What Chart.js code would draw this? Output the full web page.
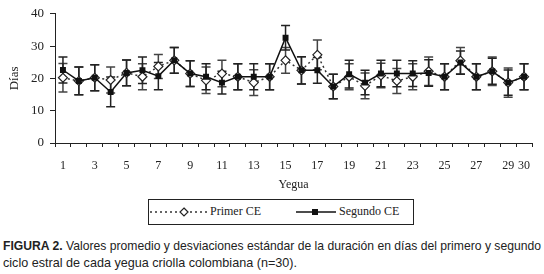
<!DOCTYPE html>
<html>
<head>
<meta charset="utf-8">
<script src="https://cdn.jsdelivr.net/npm/chart.js@4"></script>
<style>
  body { margin: 0; background: #fff; width: 544px; height: 274px; overflow: hidden; position: relative; }
  #wrap { position: absolute; left: 0; top: 0; width: 544px; height: 195px; }
  #legend { position: absolute; left: 148px; top: 199px; width: 264px; height: 24px; border: 1px solid #222;
    font-family: "Liberation Serif", serif; font-size: 12px; color: #222; }
  #legend span { position: absolute; top: 4px; }
  #legend svg { position: absolute; top: 5px; }
  #cap { position: absolute; left: 3px; top: 237px; width: 541px; font-family: "Liberation Sans", sans-serif;
    font-size: 13.5px; line-height: 17px; color: #222; white-space: nowrap; }
  #cap .ln { display: inline-block; transform-origin: 0 50%; }
</style>
</head>
<body>
<div id="wrap"><canvas id="chart"></canvas></div>
<div id="legend">
  <svg width="60" height="14" style="left:0px"><line x1="1" y1="7" x2="58" y2="7" stroke="#333" stroke-width="1.5" stroke-dasharray="2,3"/><polygon points="35,3 39,7 35,11 31,7" fill="#fff" stroke="#222" stroke-width="1.2"/></svg>
  <span style="left:61px">Primer CE</span>
  <svg width="42" height="14" style="left:147px"><line x1="0" y1="7" x2="40" y2="7" stroke="#111" stroke-width="1.5"/><rect x="16" y="4" width="6" height="6" fill="#111"/></svg>
  <span style="left:190px">Segundo CE</span>
</div>
<div id="cap"><span class="ln" data-w="538"><b>FIGURA 2.</b> Valores promedio y desviaciones estándar de la duración en días del primero y segundo</span><br><span class="ln" data-w="294">ciclo estral de cada yegua criolla colombiana (n=30).</span></div>
<script>
const yeguas = [1, 2, 3, 4, 5, 6, 7, 8, 9, 10, 11, 12, 13, 14, 15, 16, 17, 18, 19, 20, 21, 22, 23, 24, 25, 26, 27, 28, 29, 30];

// promedio y desviacion, primer ciclo
const primerCE = [20.2, 19.2, 20.2, 19.5, 21.7, 20.5, 23.7, 25.6, 21.5, 19.4, 21.5, 20.5, 18.7, 20.5, 25.6,
                  22.5, 27.3, 17.5, 20.5, 17.7, 20.9, 19.2, 20.5, 22.2, 20.5, 25.5, 20.5, 22.2, 18.7, 20.5];
const primerSD = [4.4, 4.3, 4.0, 4.0, 4.0, 4.0, 3.7, 4.0, 4.0, 4.1, 4.1, 4.0, 4.0, 4.0, 4.0,
                  4.2, 4.6, 3.8, 4.0, 4.0, 3.8, 3.9, 4.0, 4.4, 4.0, 4.1, 4.0, 4.4, 4.5, 4.0];

// segundo ciclo
const segundoCE = [22.6, 19.2, 20.2, 15.8, 21.7, 22.5, 20.7, 25.6, 21.5, 20.5, 18.7, 20.5, 20.5, 20.5, 32.6,
                   22.5, 22.5, 17.5, 21.3, 18.7, 21.5, 21.5, 21.5, 21.7, 20.5, 24.9, 20.5, 22.2, 18.7, 20.5];
const segundoSD = [4.0, 4.3, 4.0, 4.6, 4.0, 4.1, 4.2, 4.0, 4.0, 4.0, 3.5, 4.0, 4.0, 4.0, 3.8,
                   4.2, 4.0, 3.8, 4.3, 3.8, 4.1, 4.1, 4.0, 4.1, 4.0, 3.6, 4.0, 4.0, 3.9, 4.0];

const serif = "'Liberation Serif', serif";

// pie de figura: fuente condensada a mano
document.querySelectorAll('#cap .ln').forEach(el => {
  const w = el.getBoundingClientRect().width;
  el.style.transform = `scaleX(${el.dataset.w / w})`;
});

// barras de error dibujadas con las escalas del grafico
const errorBars = {
  id: 'errorBars',
  beforeDatasetsDraw(chart) {
    const ctx = chart.ctx;
    const y = chart.scales.y;
    chart.data.datasets.forEach((ds, di) => {
      const meta = chart.getDatasetMeta(di);
      ctx.save();
      ctx.strokeStyle = ds.errColor;
      ctx.lineWidth = 1.5;
      meta.data.forEach((pt, i) => {
        const hi = y.getPixelForValue(ds.data[i] + ds.sd[i]);
        const lo = y.getPixelForValue(ds.data[i] - ds.sd[i]);
        ctx.beginPath();
        ctx.moveTo(pt.x, hi); ctx.lineTo(pt.x, lo);
        ctx.moveTo(pt.x - 4.5, hi); ctx.lineTo(pt.x + 4.5, hi);
        ctx.moveTo(pt.x - 4.5, lo); ctx.lineTo(pt.x + 4.5, lo);
        ctx.stroke();
      });
      ctx.restore();
    });
  }
};

new Chart(document.getElementById('chart'), {
  type: 'line',
  data: {
    labels: yeguas,
    datasets: [
      {
        label: 'Primer CE',
        data: primerCE,
        sd: primerSD,
        errColor: '#444',
        borderColor: '#333',
        borderWidth: 1.5,
        borderDash: [2, 3],
        pointStyle: 'rectRot',
        pointRadius: 4.5,
        pointBackgroundColor: '#fff',
        pointBorderColor: '#222',
        pointBorderWidth: 1.2,
        tension: 0,
        order: 1,
      },
      {
        label: 'Segundo CE',
        data: segundoCE,
        sd: segundoSD,
        errColor: '#222',
        borderColor: '#111',
        borderWidth: 1.5,
        pointStyle: 'rect',
        pointRadius: 4.2,
        pointBackgroundColor: '#111',
        pointBorderColor: '#111',
        pointBorderWidth: 0,
        tension: 0,
        order: 0,
      },
    ],
  },
  options: {
    responsive: true,
    maintainAspectRatio: false,
    animation: false,
    layout: { padding: { top: 12, right: 12, left: 0, bottom: 0 } },
    plugins: { legend: { display: false }, tooltip: { enabled: false } },
    scales: {
      x: {
        offset: true,
        grid: { offset: true, drawOnChartArea: false, tickLength: 4, color: '#222' },
        border: { color: '#222', width: 1 },
        ticks: {
          autoSkip: false, maxRotation: 0, padding: 12, color: '#222',
          font: { family: serif, size: 12 },
          callback: (v, i) => (i % 2 === 0 || i === 29) ? yeguas[i] : '',
        },
        title: { display: true, text: 'Yegua', color: '#222', font: { family: serif, size: 12 }, padding: { top: 0, bottom: 3 } },
        afterFit: (s) => { s.height = 52; },
      },
      y: {
        min: 0, max: 40,
        grid: { drawOnChartArea: false, tickLength: 5, color: '#222' },
        border: { color: '#222', width: 1 },
        ticks: { stepSize: 10, padding: 6, color: '#222', font: { family: serif, size: 13 } },
        title: { display: true, text: 'Días', color: '#222', font: { family: serif, size: 13 }, padding: { top: 7, bottom: 0 } },
        afterFit: (s) => { s.width = 55; },
      },
    },
  },
  plugins: [errorBars],
});
</script>
</body>
</html>
